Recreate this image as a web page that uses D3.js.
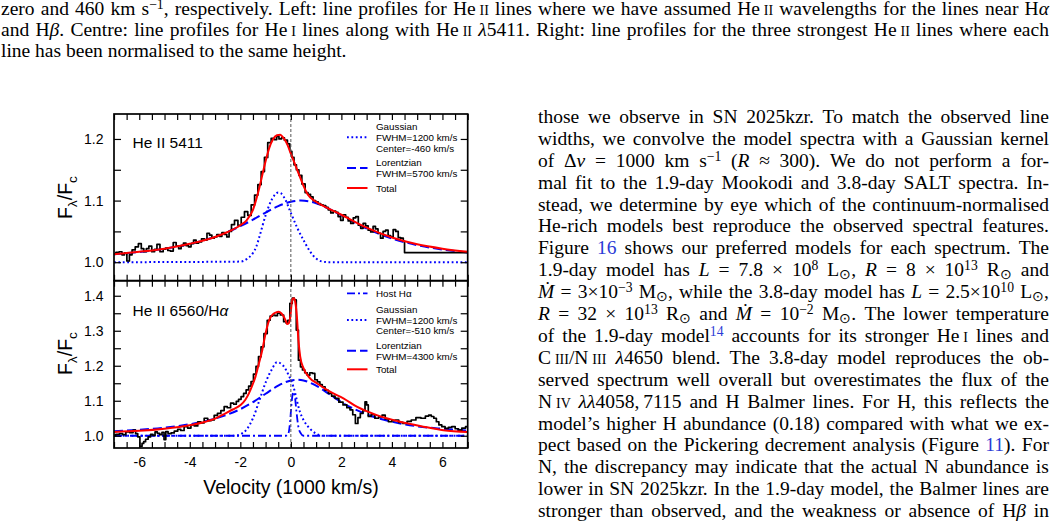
<!DOCTYPE html>
<html><head><meta charset="utf-8">
<script src="https://cdn.jsdelivr.net/npm/d3@7"></script>
<style>
html,body{margin:0;padding:0;background:#fff;}
body{width:1057px;height:528px;position:relative;overflow:hidden;}
svg{position:absolute;left:0;top:0;}
.tl{position:absolute;font-family:"Liberation Serif","Times New Roman",serif;font-size:19.5px;line-height:22px;white-space:nowrap;color:#000;}
.j{display:flex;justify-content:space-between;align-items:baseline;}
.tl sup{font-size:0.7em;vertical-align:baseline;position:relative;top:-0.42em;line-height:0;}
.tl sub{font-size:0.7em;vertical-align:baseline;position:relative;top:0.22em;line-height:0;}
sc{font-variant:small-caps;}
lk{color:#2b3bd6;}
</style></head><body>
<script>
// ---------------- DATA ----------------
const xTickVals = d3.range(-7, 7.001, 0.5);
const xLabelVals = [-6, -4, -2, 0, 2, 4, 6];
const yTicksTop = [1.0, 1.05, 1.1, 1.15, 1.2];
const yTicksBot = [1.0, 1.05, 1.1, 1.15, 1.2, 1.25, 1.3, 1.35, 1.4];

// Top panel: He II 5411
const topObsVel = [-7.0,-6.85,-6.75,-6.62,-6.55,-6.43,-6.35,-6.22,-6.1,-5.97,-5.87,-5.77,-5.67,-5.57,-5.44,-5.35,-5.25,-5.11,-5.0,-4.92,-4.82,-4.72,-4.59,-4.49,-4.39,-4.3,-4.2,-4.1,-4.0,-3.9,-3.8,-3.7,-3.6,-3.47,-3.37,-3.27,-3.17,-3.08,-2.98,-2.88,-2.78,-2.68,-2.58,-2.49,-2.4,-2.3,-2.16,-2.03,-1.9,-1.77,-1.64,-1.5,-1.37,-1.24,-1.11,-0.98,-0.85,-0.71,-0.6,-0.52,-0.42,-0.32,-0.19,-0.08,0.0,0.08,0.17,0.27,0.37,0.5,0.63,0.73,0.83,0.93,1.03,1.13,1.23,1.33,1.43,1.53,1.63,1.73,1.82,1.92,2.02,2.12,2.22,2.32,2.42,2.52,2.62,2.72,2.81,2.91,3.01,3.11,3.21,3.3,3.4,3.5,3.6,3.7,3.8,3.9,4.0,4.1,4.2,4.3,4.4,4.5,4.5,7.0];
const topObsFlux = [1.013,1.016,1.017,1.012,1.015,1.002,1.012,1.020,1.025,1.030,1.022,1.017,1.022,1.026,1.017,1.021,1.029,1.017,1.021,1.023,1.019,1.018,1.032,1.026,1.022,1.027,1.031,1.027,1.025,1.030,1.036,1.031,1.033,1.038,1.036,1.047,1.044,1.039,1.041,1.045,1.042,1.048,1.045,1.041,1.050,1.061,1.068,1.060,1.073,1.082,1.076,1.093,1.109,1.126,1.147,1.170,1.194,1.201,1.199,1.204,1.200,1.202,1.198,1.192,1.180,1.170,1.158,1.150,1.141,1.127,1.113,1.110,1.106,1.100,1.098,1.095,1.093,1.092,1.089,1.085,1.080,1.083,1.081,1.074,1.068,1.077,1.073,1.067,1.063,1.072,1.074,1.060,1.055,1.063,1.059,1.052,1.049,1.058,1.054,1.047,1.039,1.050,1.052,1.043,1.041,1.053,1.050,1.040,1.039,1.034,1.0156,1.0156];
const topGaussVel = [-7,-2.0,-1.75,-1.5,-1.37,-1.24,-1.0,-0.75,-0.5,-0.4,-0.25,0,0.25,0.5,0.75,1.0,1.25,1.5,7];
const topGaussFlux = [1.0,1.001,1.005,1.015,1.025,1.042,1.076,1.102,1.113,1.112,1.104,1.08,1.056,1.036,1.018,1.006,1.001,1.0,1.0];
const topLorVel = [-7,-6,-5,-4,-3,-2,-1.5,-1,-0.5,0,0.4,1,1.5,2,3,4,5,6,7];
const topLorFlux = [1.0129,1.0166,1.0218,1.0296,1.0413,1.0585,1.069,1.0806,1.091,1.098,1.100,1.0958,1.087,1.076,1.0546,1.0385,1.0277,1.0206,1.0157];
const topTotVel = [-7,-6,-5,-4,-3,-2.5,-2,-1.75,-1.5,-1.37,-1.24,-1.11,-0.98,-0.85,-0.71,-0.55,-0.42,-0.3,-0.15,0,0.25,0.5,0.65,1.0,1.5,2,3,4,5,6,7];
const topTotFlux = [1.013,1.017,1.022,1.030,1.041,1.049,1.060,1.068,1.085,1.102,1.122,1.145,1.167,1.186,1.199,1.206,1.207,1.202,1.192,1.176,1.150,1.124,1.111,1.098,1.087,1.077,1.056,1.040,1.029,1.022,1.017];

// Bottom panel: He II 6560 / H-alpha
const botObsVel = [-7.0,-6.85,-6.72,-6.6,-6.46,-6.3,-6.19,-6.1,-6.02,-5.93,-5.85,-5.8,-5.7,-5.6,-5.5,-5.42,-5.33,-5.24,-5.14,-5.06,-4.98,-4.92,-4.8,-4.68,-4.55,-4.41,-4.3,-4.15,-4.02,-3.89,-3.75,-3.62,-3.5,-3.36,-3.22,-3.1,-2.97,-2.84,-2.7,-2.58,-2.45,-2.32,-2.2,-2.12,-2.02,-1.92,-1.82,-1.72,-1.62,-1.53,-1.43,-1.33,-1.23,-1.13,-1.0,-0.87,-0.77,-0.67,-0.58,-0.48,-0.35,-0.22,-0.15,-0.09,0.01,0.1,0.17,0.26,0.34,0.42,0.5,0.6,0.7,0.8,0.9,1.0,1.1,1.2,1.29,1.42,1.55,1.68,1.82,1.98,2.15,2.28,2.4,2.5,2.61,2.7,2.8,2.9,2.97,3.03,3.1,3.25,3.4,3.55,3.67,3.8,3.93,4.06,4.19,4.35,4.52,4.68,4.85,5.05,5.25,5.4,5.51,5.61,5.71,5.81,5.91,6.04,6.17,6.3,6.44,6.57,6.7,6.83,7.0];
const botObsFlux = [1.002,1.004,1.006,1.003,1.011,1.009,1.016,1.006,0.997,0.970,0.978,0.983,0.990,0.997,1.004,1.001,1.011,1.007,1.003,1.010,0.989,1.012,1.006,1.008,1.013,1.018,1.015,1.026,1.022,1.031,1.028,1.040,1.037,1.050,1.043,1.045,1.058,1.064,1.072,1.083,1.080,1.093,1.090,1.098,1.104,1.112,1.121,1.131,1.142,1.155,1.176,1.198,1.226,1.254,1.292,1.330,1.342,1.345,1.343,1.350,1.345,1.326,1.322,1.330,1.378,1.393,1.388,1.302,1.216,1.197,1.188,1.180,1.173,1.180,1.178,1.160,1.154,1.146,1.140,1.130,1.121,1.113,1.107,1.096,1.088,1.080,1.074,1.060,1.035,1.052,1.064,1.072,1.097,1.088,1.055,1.060,1.050,1.054,1.059,1.048,1.040,1.043,1.045,1.038,1.035,1.041,1.045,1.052,1.050,1.056,1.059,1.055,1.050,1.040,1.031,1.026,1.021,1.024,1.026,1.020,1.016,1.022,1.026];
const botHostVel = [-7,-0.2,-0.1,-0.03,0.03,0.1,0.16,0.22,0.3,0.4,0.5,7];
const botHostFlux = [1.0,1.0,1.006,1.04,1.095,1.125,1.112,1.07,1.025,1.006,1.0,1.0];
const botGaussVel = [-7,-2.2,-2.0,-1.75,-1.5,-1.25,-1.0,-0.75,-0.55,-0.3,-0.1,0.1,0.37,0.5,0.76,1.0,1.25,7];
const botGaussFlux = [1.0,1.0,1.004,1.018,1.05,1.10,1.152,1.19,1.21,1.20,1.175,1.14,1.066,1.045,1.02,1.006,1.0,1.0];
const botLorVel = [-7,-6,-5,-4,-3,-2,-1.5,-1,-0.5,0,0.25,0.5,1,1.5,2,3,4,5,6,7];
const botLorFlux = [1.013,1.017,1.023,1.033,1.049,1.076,1.096,1.120,1.143,1.158,1.160,1.158,1.143,1.120,1.096,1.061,1.040,1.027,1.020,1.015];
const botTotVel = [-7,-6,-5,-4,-3.38,-3,-2.59,-2.3,-1.99,-1.8,-1.66,-1.53,-1.4,-1.27,-1.13,-1.03,-0.94,-0.84,-0.74,-0.6,-0.48,-0.38,-0.28,-0.2,-0.15,-0.08,-0.02,0.05,0.12,0.18,0.24,0.3,0.37,0.5,0.76,1.03,1.55,2.08,2.61,3.4,4.32,5.25,6.04,7];
const botTotFlux = [1.011,1.014,1.020,1.030,1.040,1.049,1.064,1.075,1.088,1.103,1.121,1.143,1.169,1.205,1.245,1.282,1.311,1.333,1.345,1.352,1.354,1.350,1.340,1.328,1.319,1.322,1.340,1.388,1.393,1.380,1.340,1.273,1.226,1.193,1.164,1.150,1.126,1.107,1.083,1.059,1.040,1.026,1.016,1.011];

const topLegend = [
  {style:"dot", lines:["Gaussian","FWHM=1200 km/s","Center=-460 km/s"]},
  {style:"dash", lines:["Lorentzian","FWHM=5700 km/s"]},
  {style:"red", lines:["Total"]}
];
const botLegend = [
  {style:"dashdot", lines:["Host H\u03b1"]},
  {style:"dot", lines:["Gaussian","FWHM=1200 km/s","Center=-510 km/s"]},
  {style:"dash", lines:["Lorentzian","FWHM=4300 km/s"]},
  {style:"red", lines:["Total"]}
];

const captionLines = [
 "zero and 460 km s<sup>\u22121</sup>, respectively. Left: line profiles for He\u2009<sc>ii</sc> lines where we have assumed He\u2009<sc>ii</sc> wavelengths for the lines near H<i>\u03b1</i>",
 "and H<i>\u03b2</i>. Centre: line profiles for He\u2009<sc>i</sc> lines along with He\u2009<sc>ii</sc> <i>\u03bb</i>5411. Right: line profiles for the three strongest He\u2009<sc>ii</sc> lines where each",
 "line has been normalised to the same height."
];
const bodyLines = [
 "those we observe in SN 2025kzr. To match the observed line",
 "widths, we convolve the model spectra with a Gaussian kernel",
 "of \u0394<i>v</i> = 1000 km s<sup>\u22121</sup> (<i>R</i> \u2248 300). We do not perform a for-",
 "mal fit to the 1.9-day Mookodi and 3.8-day SALT spectra. In-",
 "stead, we determine by eye which of the continuum-normalised",
 "He-rich models best reproduce the observed spectral features.",
 "Figure <lk>16</lk> shows our preferred models for each spectrum. The",
 "1.9-day model has <i>L</i> = 7.8 \u00d7 10<sup>8</sup> L<sub>\u2299</sub>, <i>R</i> = 8 \u00d7 10<sup>13</sup> R<sub>\u2299</sub> and",
 "<i>\u1e40</i> = 3\u00d710<sup>\u22123</sup> M<sub>\u2299</sub>, while the 3.8-day model has <i>L</i> = 2.5\u00d710<sup>10</sup> L<sub>\u2299</sub>,",
 "<i>R</i> = 32 \u00d7 10<sup>13</sup> R<sub>\u2299</sub> and <i>\u1e40</i> = 10<sup>\u22122</sup> M<sub>\u2299</sub>. The lower temperature",
 "of the 1.9-day model<sup><lk>14</lk></sup> accounts for its stronger He\u2009<sc>i</sc> lines and",
 "C\u2009<sc>iii</sc>/N\u2009<sc>iii</sc> <i>\u03bb</i>4650 blend. The 3.8-day model reproduces the ob-",
 "served spectrum well overall but overestimates the flux of the",
 "N\u2009<sc>iv</sc> <i>\u03bb\u03bb</i>4058,\u20097115 and H Balmer lines. For H, this reflects the",
 "model\u2019s higher H abundance (0.18) compared with what we ex-",
 "pect based on the Pickering decrement analysis (Figure <lk>11</lk>). For",
 "N, the discrepancy may indicate that the actual N abundance is",
 "lower in SN 2025kzr. In the 1.9-day model, the Balmer lines are",
 "stronger than observed, and the weakness or absence of H<i>\u03b2</i> in"
];

// ---------------- TEXT ----------------
const BASE = 17.6;
function addLine(html, x, baseline, width, justify){
  const div = d3.select("body").append("div")
    .attr("class", "tl" + (justify ? " j" : ""))
    .style("left", x + "px").style("top", (baseline - BASE) + "px");
  if (justify) {
    div.style("width", width + "px");
    const spans = html.split(" ").map(w => div.append("span").html(w));
    // make sure a justified line never gets squeezed below a minimal word gap
    const minGap = 3.2;
    let ls = 0;
    for (let k = 0; k < 12; k++) {
      const tot = d3.sum(spans, s => s.node().getBoundingClientRect().width);
      if (tot + minGap * (spans.length - 1) <= width) break;
      ls -= 0.08;
      div.style("letter-spacing", ls + "px");
    }
  } else div.html(html);
}
const capBase = [15.5, 36.5, 57.5];
captionLines.forEach((l, i) => addLine(l, 1, capBase[i], 1048, i < 2));
bodyLines.forEach((l, i) => addLine(l, 538, 123.5 + i * 21.9, 511, true));

// ---------------- CHART ----------------
const svg = d3.select("body").append("svg").attr("width", 1057).attr("height", 528);
const xs = d3.scaleLinear().domain([-7, 7]).range([114, 467.7]);
const yTop = d3.scaleLinear().domain([0.97, 1.2405]).range([280.7, 114]);
const yBot = d3.scaleLinear().domain([0.965, 1.443]).range([448, 280.7]);
const SANS = "'Liberation Sans', Arial, Helvetica, sans-serif";

const styles = {
  dot:     {stroke:"#0000ff", width:2, dash:"1.8,2.6"},
  dash:    {stroke:"#0000ff", width:2, dash:"9,4"},
  dashdot: {stroke:"#0000ff", width:1.8, dash:"8,3,2,3"},
  red:     {stroke:"#ff0000", width:2, dash:null},
  obs:     {stroke:"#000000", width:1.7, dash:null}
};

function panel(y, name, series){
  const [bot, top] = y.range();
  const id = "clip" + name;
  svg.append("clipPath").attr("id", id).append("rect")
    .attr("x", xs(-7)).attr("y", top).attr("width", xs(7) - xs(-7)).attr("height", bot - top);
  const g = svg.append("g").attr("clip-path", `url(#${id})`);
  series.forEach(s => {
    const pts = s.vel.map((v, i) => [v, s.flux[i]]);
    const st = styles[s.style];
    const curve = s.style === "obs" ? d3.curveStep : d3.curveMonotoneX;
    const line = d3.line().x(d => xs(d[0])).y(d => y(d[1])).curve(curve);
    g.append("path").attr("d", line(pts)).attr("fill", "none")
      .attr("stroke", st.stroke).attr("stroke-width", st.width)
      .attr("stroke-dasharray", st.dash).attr("stroke-linejoin", "round");
  });
}

panel(yTop, "top", [
  {vel: topGaussVel, flux: topGaussFlux, style: "dot"},
  {vel: topLorVel, flux: topLorFlux, style: "dash"},
  {vel: topObsVel, flux: topObsFlux, style: "obs"},
  {vel: topTotVel, flux: topTotFlux, style: "red"}
]);
panel(yBot, "bot", [
  {vel: botHostVel, flux: botHostFlux, style: "dashdot"},
  {vel: botGaussVel, flux: botGaussFlux, style: "dot"},
  {vel: botLorVel, flux: botLorFlux, style: "dash"},
  {vel: botObsVel, flux: botObsFlux, style: "obs"},
  {vel: botTotVel, flux: botTotFlux, style: "red"}
]);

// zero-velocity line
svg.append("line").attr("x1", xs(0)).attr("x2", xs(0)).attr("y1", 114).attr("y2", 448)
  .attr("stroke", "#555").attr("stroke-width", 1).attr("stroke-dasharray", "3,2");

// axes
const fmtX = d => xLabelVals.includes(d) ? String(d) : "";
const fmtY = d => (Math.round(d * 100) % 10 === 0) ? d.toFixed(1) : "";
function axes(y, yTicks, showX){
  const [bot, top] = y.range();
  const g = svg.append("g");
  g.append("g").attr("transform", `translate(0,${bot})`)
    .call(d3.axisBottom(xs).tickValues(xTickVals).tickSize(-6).tickPadding(9.5).tickFormat(showX ? fmtX : () => ""));
  g.append("g").attr("transform", `translate(0,${top})`)
    .call(d3.axisTop(xs).tickValues(xTickVals).tickSize(-6).tickFormat(() => ""));
  g.append("g").attr("transform", `translate(${xs(-7)},0)`)
    .call(d3.axisLeft(y).tickValues(yTicks).tickSize(-7).tickPadding(10.5).tickFormat(fmtY));
  g.append("g").attr("transform", `translate(${xs(7)},0)`)
    .call(d3.axisRight(y).tickValues(yTicks).tickSize(-7).tickFormat(() => ""));
  g.selectAll(".domain").remove();
  g.selectAll(".tick line").attr("stroke", "#000").attr("stroke-width", 1.2);
  g.selectAll(".tick text").attr("fill", "#000").style("font-family", SANS).style("font-size", "14px");
  svg.append("rect").attr("x", xs(-7)).attr("y", top).attr("width", xs(7) - xs(-7)).attr("height", bot - top)
    .attr("fill", "none").attr("stroke", "#000").attr("stroke-width", 1.7);
}
axes(yTop, yTicksTop, false);
axes(yBot, yTicksBot, true);

// axis titles
svg.append("text").attr("x", 291).attr("y", 494).attr("text-anchor", "middle")
  .style("font-family", SANS).style("font-size", "19.5px").text("Velocity (1000 km/s)");
function yLabel(cy){
  const t = svg.append("text").attr("transform", `translate(72,${cy}) rotate(-90)`)
    .attr("text-anchor", "middle").style("font-family", SANS).style("font-size", "19.5px");
  t.append("tspan").text("F");
  t.append("tspan").attr("dy", 5).style("font-size", "13.5px").text("\u03bb");
  t.append("tspan").attr("dy", -5).text("/F");
  t.append("tspan").attr("dy", 5).style("font-size", "13.5px").text("c");
}
yLabel(197.5);
yLabel(353.5);

// panel labels
svg.append("text").attr("x", 132.5).attr("y", 148).style("font-family", SANS).style("font-size", "15.5px").text("He II 5411");
const pl = svg.append("text").attr("x", 132.5).attr("y", 315.5).style("font-family", SANS).style("font-size", "15.5px");
pl.append("tspan").text("He II 6560/H");
pl.append("tspan").style("font-style", "italic").text("\u03b1");

// legends
function legend(items, rows, sampleRows){
  let k = 0;
  items.forEach((it, i) => {
    const st = styles[it.style];
    svg.append("line").attr("x1", 347).attr("x2", 367.5).attr("y1", sampleRows[i]).attr("y2", sampleRows[i])
      .attr("stroke", st.stroke).attr("stroke-width", st.width).attr("stroke-dasharray", st.dash);
    it.lines.forEach(txt => {
      svg.append("text").attr("x", 376).attr("y", rows[k] + 3.5)
        .style("font-family", SANS).style("font-size", "9.8px").text(txt);
      k++;
    });
  });
}
legend(topLegend, [126.5, 137.3, 148, 162.5, 173.3, 188], [137.3, 168, 188]);
legend(botLegend, [293.3, 309.3, 320, 330.7, 345.3, 356, 369.3], [293.3, 320, 350.7, 369.3]);
</script>
</body></html>
